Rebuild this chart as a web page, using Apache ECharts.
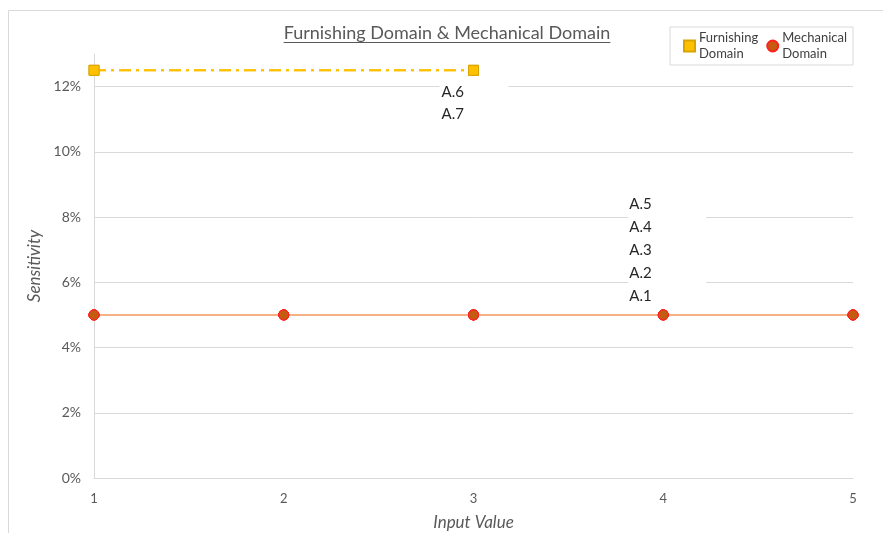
<!DOCTYPE html>
<html>
<head>
<meta charset="utf-8">
<script src="https://cdn.jsdelivr.net/npm/echarts@6/dist/echarts.min.js"></script>
<style>
html,body{margin:0;padding:0;background:#fff;}
#chart{width:883px;height:533px;}
</style>
</head>
<body>
<div id="chart"></div>
<script>
// ---- data ----
const chartTitle = 'Furnishing Domain & Mechanical Domain';
const xTicks = [1, 2, 3, 4, 5];
const mechanicalGroup = 'Mechanical Domain';
const mechanicalNames = ['A.1', 'A.2', 'A.3', 'A.4', 'A.5'];
const mechanicalX = [1, 2, 3, 4, 5];
const mechA1 = [0.05, 0.05, 0.05, 0.05, 0.05];
const mechA2 = [0.05, 0.05, 0.05, 0.05, 0.05];
const mechA3 = [0.05, 0.05, 0.05, 0.05, 0.05];
const mechA4 = [0.05, 0.05, 0.05, 0.05, 0.05];
const mechA5 = [0.05, 0.05, 0.05, 0.05, 0.05];
const mechanicalValues = [mechA1, mechA2, mechA3, mechA4, mechA5];
const mechanicalLabelX = 4;

const furnishingGroup = 'Furnishing Domain';
const furnishingNames = ['A.6', 'A.7'];
const furnishingX = [1, 3];
const furnA6 = [0.125, 0.125];
const furnA7 = [0.125, 0.125];
const furnishingValues = [furnA6, furnA7];
const furnishingLabelX = 3;

// ---- styles ----
const FONT = 'Lato';
const mechDashes = [[6, 3], [10, 4, 2, 4], [14, 5], [4, 2], [18, 4, 3, 4]];
const furnDash = [12, 5, 3, 5];

const chart = echarts.init(document.getElementById('chart'), null, {renderer: 'canvas'});

function buildData(xs, ys, labelX, labelCfg) {
  return xs.map((x, i) => {
    if (x === labelX) return {value: [x, ys[i]], label: labelCfg};
    return [x, ys[i]];
  });
}

const series = [];
furnishingNames.forEach((nm, k) => {
  series.push({
    name: furnishingGroup,
    type: 'line',
    symbol: 'rect',
    symbolSize: 10,
    z: 3,
    lineStyle: {color: '#FFC000', width: 2, type: furnDash},
    itemStyle: {color: '#FFC000', borderColor: '#D9A400', borderWidth: 1},
    emphasis: {disabled: true},
    data: buildData(furnishingX, furnishingValues[k], furnishingLabelX, {
      show: true,
      formatter: nm,
      position: 'inside',
      align: 'left',
      verticalAlign: 'middle',
      offset: [-34, 21.5 + 22 * k],
      width: 67,
      height: 22,
      lineHeight: 22,
      padding: [0, 0, 0, 2],
      backgroundColor: '#ffffff',
      color: '#262626',
      fontFamily: FONT,
      fontSize: 15
    })
  });
});
mechanicalNames.forEach((nm, k) => {
  series.push({
    name: mechanicalGroup,
    type: 'line',
    symbol: 'circle',
    symbolSize: 10,
    z: 4,
    lineStyle: {color: '#F4B183', width: 2, type: mechDashes[k]},
    itemStyle: {color: '#C55A11', borderColor: '#FF2020', borderWidth: 1},
    emphasis: {disabled: true},
    data: buildData(mechanicalX, mechanicalValues[k], mechanicalLabelX, {
      show: true,
      formatter: nm,
      position: 'inside',
      align: 'left',
      verticalAlign: 'middle',
      offset: [-35, -19 - 23 * k],
      width: 77,
      height: 23,
      lineHeight: 23,
      padding: [0, 0, 0, 1],
      backgroundColor: '#ffffff',
      color: '#262626',
      fontFamily: FONT,
      fontSize: 15
    })
  });
});

// title underline width
const mctx = document.createElement('canvas').getContext('2d');
const TITLE_SIZE = 18;
mctx.font = TITLE_SIZE + 'px ' + FONT;
const titleW = mctx.measureText(chartTitle).width;
const titleCX = 447;

const option = {
  animation: false,
  backgroundColor: '#ffffff',
  textStyle: {fontFamily: FONT},
  graphic: [
    {type: 'rect', silent: true, z: -10, shape: {x: 8.5, y: 10.5, width: 900, height: 600},
     style: {fill: 'none', stroke: '#d9d9d9', lineWidth: 1}},
    {type: 'text', silent: true, x: titleCX, y: 33,
     style: {text: chartTitle, fontFamily: FONT, fontSize: TITLE_SIZE, fill: '#595959',
             align: 'center', verticalAlign: 'middle'}},
    {type: 'line', silent: true, shape: {x1: titleCX - titleW / 2, y1: 42.5, x2: titleCX + titleW / 2, y2: 42.5},
     style: {stroke: '#595959', lineWidth: 1}}
  ],
  legend: {
    left: 670,
    top: 27,
    orient: 'horizontal',
    padding: [3, 6, 3, 13],
    itemGap: 8,
    itemWidth: 11,
    itemHeight: 11,
    borderColor: '#d9d9d9',
    borderWidth: 1,
    backgroundColor: '#ffffff',
    data: [
      {name: furnishingGroup, icon: 'rect'},
      {name: mechanicalGroup, icon: 'circle'}
    ],
    formatter: n => n.replace(' ', '\n'),
    textStyle: {fontFamily: FONT, fontSize: 13, color: '#404040', lineHeight: 16, padding: [0, 0, 0, -1]}
  },
  grid: {left: 94, right: 30, top: 54, bottom: 55, containLabel: false, outerBoundsMode: 'none'},
  xAxis: {
    type: 'value',
    min: xTicks[0],
    max: xTicks[xTicks.length - 1],
    interval: 1,
    name: 'Input Value',
    nameLocation: 'middle',
    nameGap: 36,
    nameTextStyle: {fontFamily: FONT, fontStyle: 'italic', fontSize: 17, color: '#595959'},
    axisLine: {show: true, lineStyle: {color: '#d9d9d9', width: 1}},
    axisTick: {show: false},
    splitLine: {show: false},
    axisLabel: {margin: 14, fontFamily: FONT, fontSize: 13, color: '#595959'}
  },
  yAxis: {
    type: 'value',
    min: 0,
    max: 0.13,
    interval: 0.02,
    name: 'Sensitivity',
    nameLocation: 'middle',
    nameGap: 46,
    nameTextStyle: {fontFamily: FONT, fontStyle: 'italic', fontSize: 17, color: '#595959'},
    axisLine: {show: true, lineStyle: {color: '#d9d9d9', width: 1}},
    axisTick: {show: false},
    splitLine: {show: true, showMaxLine: false, lineStyle: {color: '#d9d9d9', width: 1}},
    axisLabel: {
      margin: 13, fontFamily: FONT, fontSize: 14, color: '#595959',
      showMaxLabel: false,
      formatter: v => Math.round(v * 100) + '%'
    }
  },
  series: series
};
chart.setOption(option);
</script>
</body>
</html>
